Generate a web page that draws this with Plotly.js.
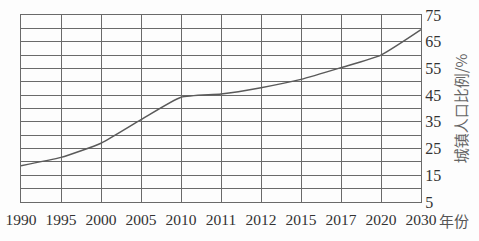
<!DOCTYPE html>
<html>
<head>
<meta charset="utf-8">
<script src="https://cdn.plot.ly/plotly-3.0.1.min.js"></script>
<style>html,body{margin:0;padding:0;background:#fdfdfd;}#chart{width:479px;height:241px;}</style>
</head>
<body>
<div id="chart"></div>
<script>
const years = ["1990","1995","2000","2005","2010","2011","2012","2015","2017","2020","2030"];
const urbanShare = [18.6, 21.7, 27.0, 35.8, 44.2, 45.4, 47.8, 50.9, 55.3, 60.0, 69.5];
const yTickValues = [5, 15, 25, 35, 45, 55, 65, 75];
const yTitle = "城镇人口比例/%";
const xTitle = "年份";

const gridColor = "#6a6a6a";
Plotly.newPlot("chart", [{
  x: years,
  y: urbanShare,
  type: "scatter",
  mode: "lines",
  line: {color: "#5a5a5a", width: 1.5, shape: "spline", smoothing: 0.5},
  hoverinfo: "skip"
}], {
  width: 479, height: 241,
  margin: {l: 21, r: 58, t: 15, b: 39},
  paper_bgcolor: "#fdfdfd",
  plot_bgcolor: "#fdfdfd",
  showlegend: false,
  font: {family: "Liberation Serif, serif", color: "#333", size: 16},
  xaxis: {
    type: "category",
    range: [0, years.length - 1],
    showgrid: true, gridcolor: gridColor, gridwidth: 1,
    showline: true, linecolor: gridColor, linewidth: 1, mirror: true,
    zeroline: false, ticks: "", fixedrange: true, ticklabelstandoff: 3,
    tickfont: {size: 15.5, color: "#333"}
  },
  yaxis: {
    side: "right",
    range: [5, 75],
    tickmode: "array", tickvals: yTickValues,
    showgrid: true, gridcolor: gridColor, gridwidth: 1,
    minor: {tickmode: "linear", tick0: 0, dtick: 5, showgrid: true, gridcolor: gridColor, gridwidth: 1},
    showline: true, linecolor: gridColor, linewidth: 1, mirror: true,
    zeroline: false, ticks: "", ticklabelstandoff: 0,
    tickfont: {size: 16, color: "#333"},
    title: {text: yTitle, font: {family: "Noto Sans CJK SC, sans-serif", size: 15, color: "#666"}, standoff: 16}
  },
  annotations: [{
    text: xTitle, xref: "paper", yref: "paper", x: 1.0, y: 0,
    xanchor: "left", yanchor: "top", xshift: 16, yshift: -6, showarrow: false,
    font: {family: "Noto Sans CJK SC, sans-serif", size: 15, color: "#555"}
  }]
}, {staticPlot: true});
</script>
</body>
</html>
